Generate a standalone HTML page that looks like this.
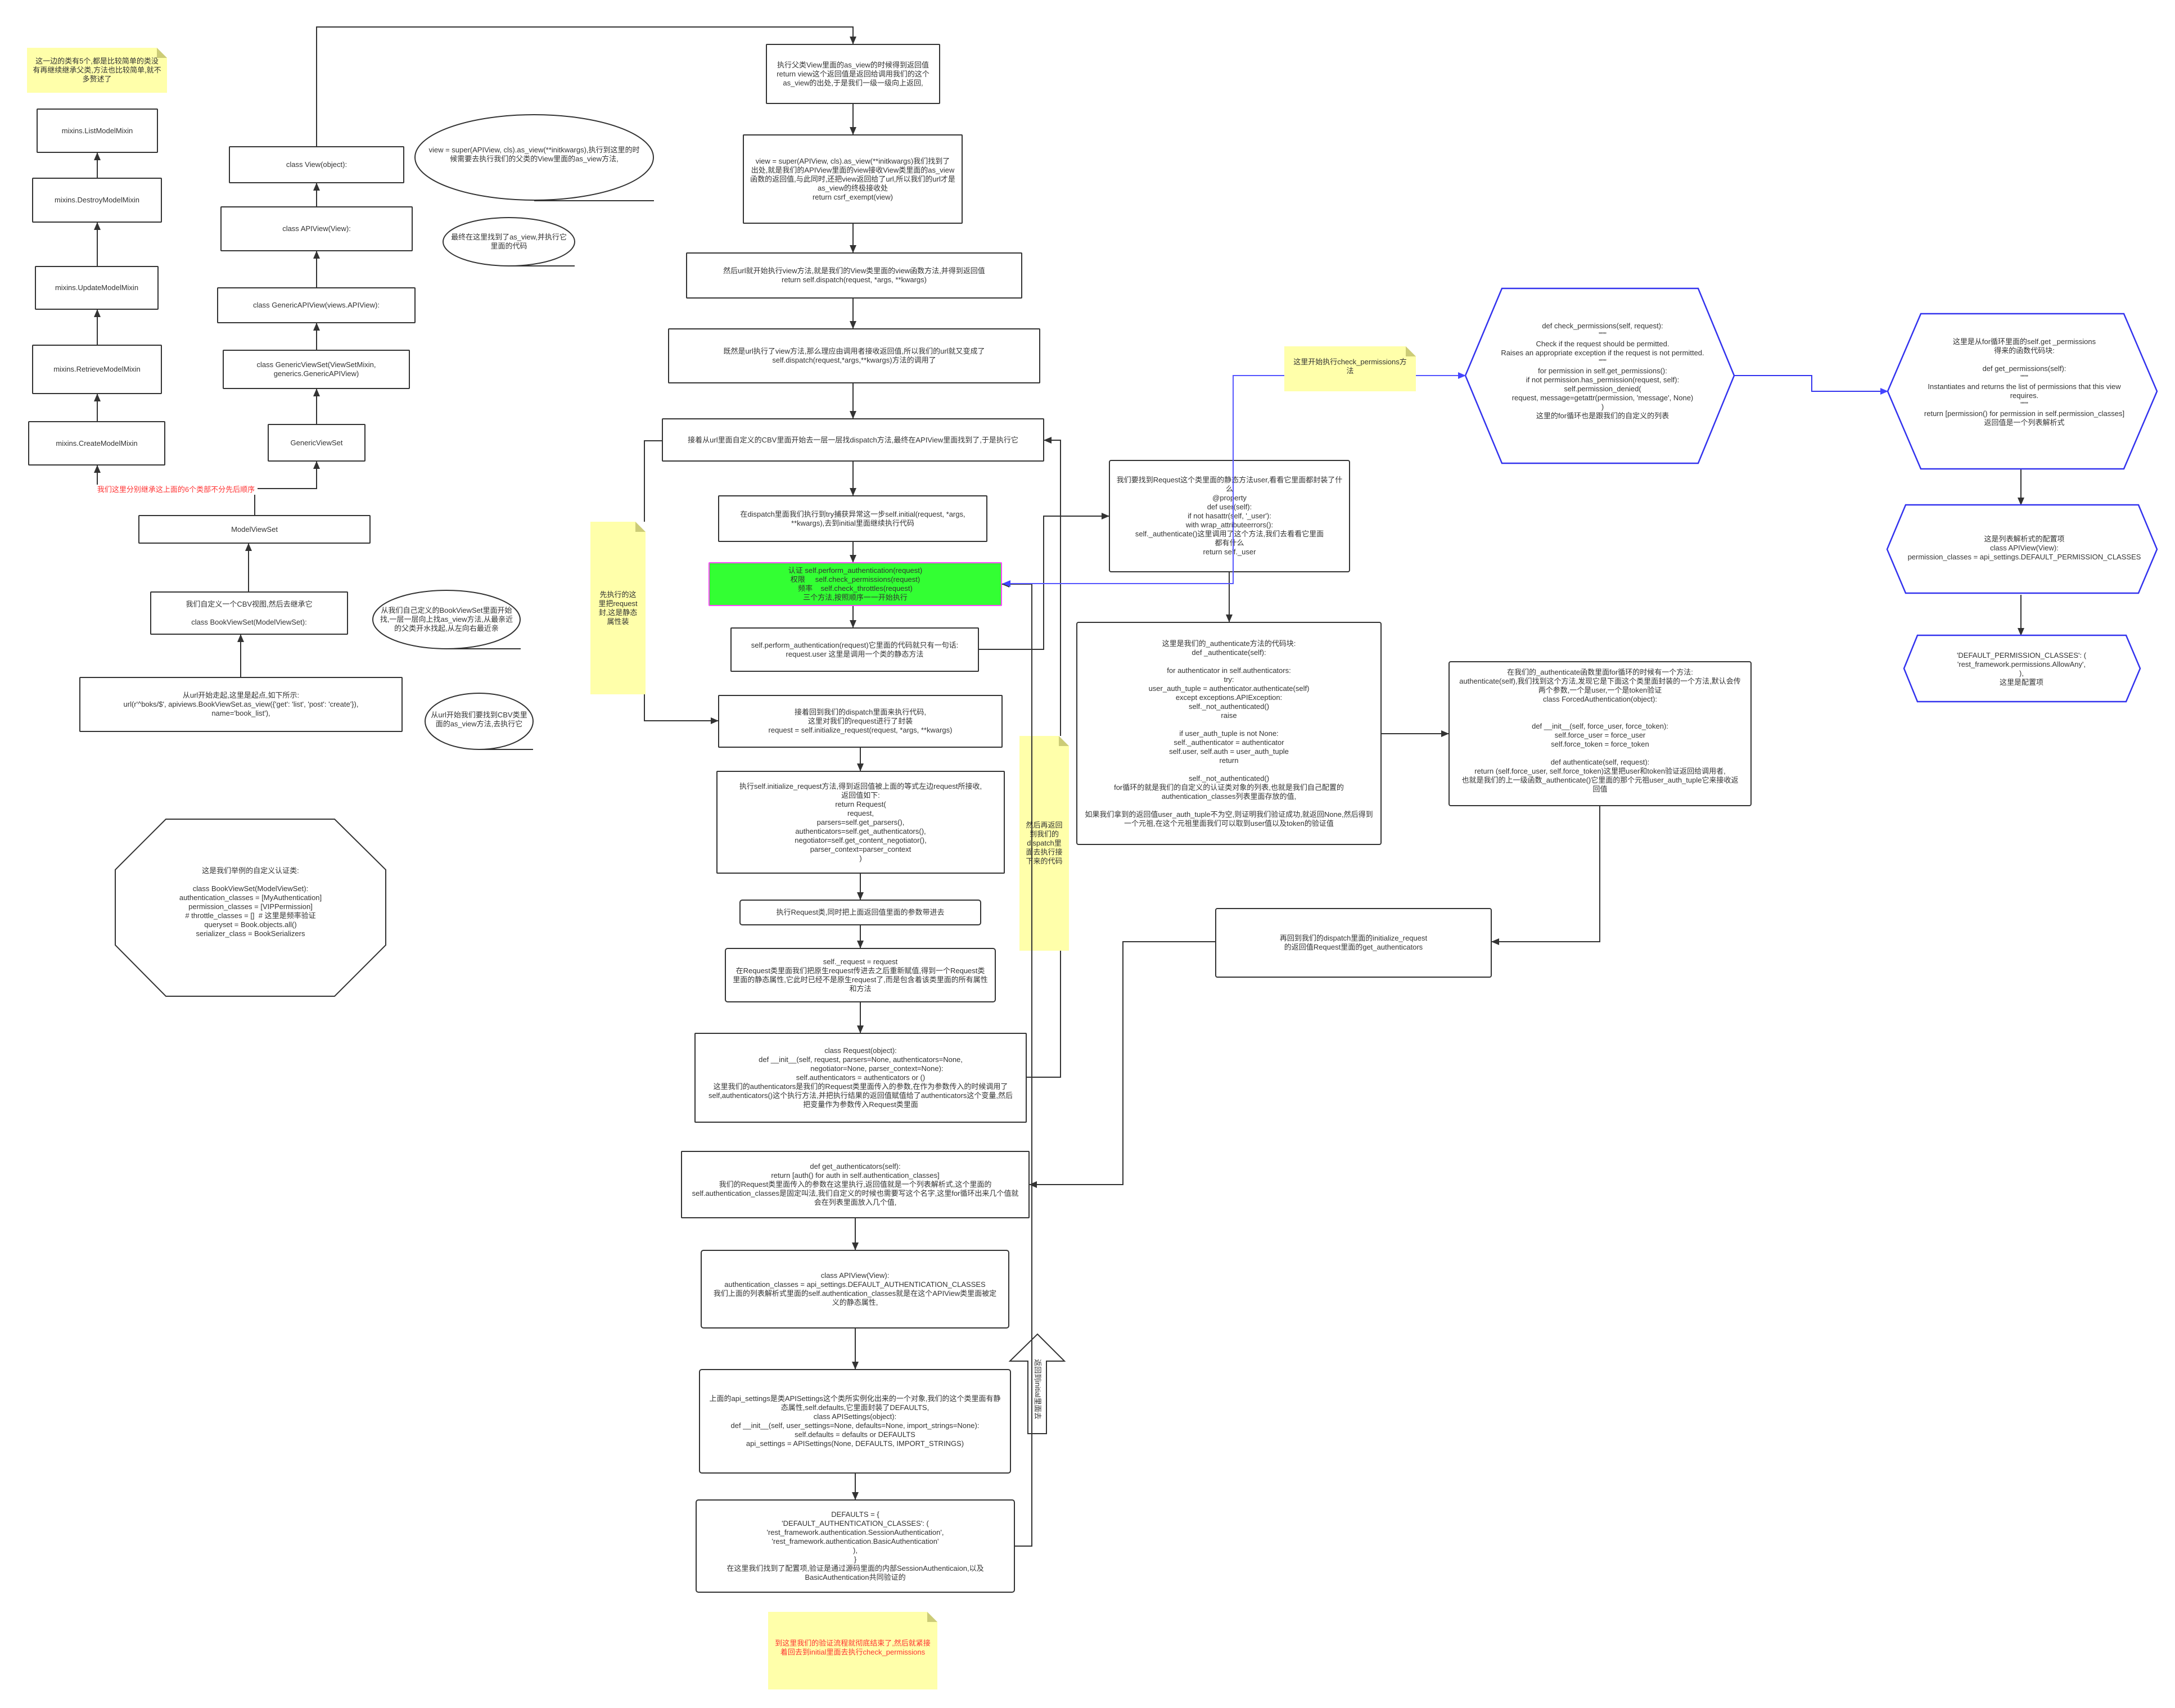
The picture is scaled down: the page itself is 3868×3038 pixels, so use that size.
<!DOCTYPE html>
<html><head><meta charset="utf-8">
<style>
html,body{margin:0;padding:0;background:#fff}
#c{position:relative;width:3868px;height:3038px;overflow:hidden;background:#fff;font-family:"Liberation Sans","Noto Sans CJK SC",sans-serif;font-size:13px;line-height:16px;color:#333}
.b{position:absolute;box-sizing:border-box;border:2px solid #333;background:#fff;display:flex;align-items:center;justify-content:center;text-align:center;border-radius:2px}
.t{position:absolute;display:flex;align-items:center;justify-content:center;text-align:center}
.n{position:absolute;background:#ffffaa;display:flex;align-items:center;justify-content:center;text-align:center;box-sizing:border-box;padding:4px}
.n::after{content:"";position:absolute;right:0;top:0;border-style:solid;border-width:0 18px 18px 0;border-color:transparent #fff #cccc77 transparent}
svg{position:absolute;left:0;top:0}
</style></head><body><div id="c">
<svg width="3868" height="3038" viewBox="0 0 3868 3038">
<defs>
<marker id="a" markerUnits="userSpaceOnUse" markerWidth="14" markerHeight="12" refX="13" refY="6" orient="auto"><path d="M0,0 L14,6 L0,12 z" fill="#333"/></marker>
<marker id="ab" markerUnits="userSpaceOnUse" markerWidth="14" markerHeight="12" refX="13" refY="6" orient="auto"><path d="M0,0 L14,6 L0,12 z" fill="#4444ff"/></marker>
</defs>
<g fill="none" stroke="#333" stroke-width="2">
<polyline points="563,260 563,48 1517,48 1517,78" marker-end="url(#a)"/>
<line x1="1517" y1="185" x2="1517" y2="239" marker-end="url(#a)"/>
<line x1="1517" y1="398" x2="1517" y2="449" marker-end="url(#a)"/>
<line x1="1517" y1="531" x2="1517" y2="584" marker-end="url(#a)"/>
<line x1="1517" y1="682" x2="1517" y2="744" marker-end="url(#a)"/>
<line x1="1517" y1="821" x2="1517" y2="881" marker-end="url(#a)"/>
<line x1="1517" y1="964" x2="1517" y2="1000" marker-end="url(#a)"/>
<line x1="1517" y1="1078" x2="1517" y2="1116" marker-end="url(#a)"/>
<polyline points="1741,1155 1856,1155 1856,918 1972,918" marker-end="url(#a)"/>
<polyline points="1177,784 1146,784 1146,1282 1277,1282" marker-end="url(#a)"/>
<line x1="1530" y1="1330" x2="1530" y2="1371" marker-end="url(#a)"/>
<line x1="1530" y1="1554" x2="1530" y2="1600" marker-end="url(#a)"/>
<line x1="1530" y1="1646" x2="1530" y2="1686" marker-end="url(#a)"/>
<line x1="1530" y1="1783" x2="1530" y2="1837" marker-end="url(#a)"/>
<polyline points="1826,1916 1886,1916 1886,783 1857,783" marker-end="url(#a)"/>
<line x1="1521" y1="2167" x2="1521" y2="2223" marker-end="url(#a)"/>
<line x1="1521" y1="2363" x2="1521" y2="2435" marker-end="url(#a)"/>
<line x1="1521" y1="2621" x2="1521" y2="2667" marker-end="url(#a)"/>
<line x1="2186" y1="1018" x2="2186" y2="1106" marker-end="url(#a)"/>
<line x1="2457" y1="1305" x2="2576" y2="1305" marker-end="url(#a)"/>
<polyline points="2845,1434 2845,1675 2653,1675" marker-end="url(#a)"/>
<polyline points="2161,1675 1997,1675 1997,2107 1831,2107" marker-end="url(#a)"/>
<line x1="3594" y1="834" x2="3594" y2="898" marker-end="url(#a)"/>
<line x1="3594" y1="1058" x2="3594" y2="1130" marker-end="url(#a)"/>
<line x1="173" y1="316" x2="173" y2="272" marker-end="url(#a)"/>
<line x1="173" y1="473" x2="173" y2="396" marker-end="url(#a)"/>
<line x1="173" y1="613" x2="173" y2="551" marker-end="url(#a)"/>
<line x1="173" y1="749" x2="173" y2="701" marker-end="url(#a)"/>
<line x1="173" y1="869" x2="173" y2="828" marker-end="url(#a)"/>
<polyline points="453,916 453,869 563,869 563,821" marker-end="url(#a)"/>
<line x1="453" y1="869" x2="173" y2="869"/>
<line x1="563" y1="754" x2="563" y2="692" marker-end="url(#a)"/>
<line x1="563" y1="622" x2="563" y2="575" marker-end="url(#a)"/>
<line x1="563" y1="511" x2="563" y2="447" marker-end="url(#a)"/>
<line x1="563" y1="367" x2="563" y2="326" marker-end="url(#a)"/>
<line x1="442" y1="1052" x2="442" y2="967" marker-end="url(#a)"/>
<line x1="428" y1="1204" x2="428" y2="1129" marker-end="url(#a)"/>
<ellipse cx="950" cy="280" rx="212" ry="76" fill="#fff"/>
<line x1="950" y1="357" x2="1163" y2="357"/>
<ellipse cx="905" cy="430" rx="117" ry="43" fill="#fff"/>
<line x1="905" y1="473" x2="1022" y2="473"/>
<ellipse cx="794" cy="1102" rx="131" ry="52" fill="#fff"/>
<line x1="794" y1="1154" x2="926" y2="1154"/>
<ellipse cx="852" cy="1283" rx="96" ry="50" fill="#fff"/>
<line x1="852" y1="1333" x2="948" y2="1333"/>
<polygon points="295,1457 595,1457 686,1547 686,1681 595,1772 295,1772 205,1681 205,1547" fill="#fff"/>
<polygon points="1845,2373 1893,2421 1861,2421 1861,2550 1828,2550 1828,2421 1796,2421" fill="#fff"/>
</g>
<g fill="#fff" stroke="#3333ee" stroke-width="2.5">
<polygon points="2671,513 3020,513 3084,668 3020,824 2671,824 2606,668"/>
<polygon points="3416,558 3777,558 3836,696 3777,834 3416,834 3357,696"/>
<polygon points="3389,898 3803,898 3836,977 3803,1055 3389,1055 3356,977"/>
<polygon points="3410,1130 3781,1130 3806,1189 3781,1248 3410,1248 3386,1189"/>
</g>
</svg>

<div class="n" style="left:48px;top:85px;width:249px;height:80px">这一边的类有5个,都是比较简单的类没<br>有再继续继承父类,方法也比较简单,就不<br>多赘述了</div>
<div class="b" style="left:65px;top:193px;width:216px;height:79px">mixins.ListModelMixin</div>
<div class="b" style="left:57px;top:316px;width:231px;height:80px">mixins.DestroyModelMixin</div>
<div class="b" style="left:62px;top:473px;width:220px;height:78px">mixins.UpdateModelMixin</div>
<div class="b" style="left:57px;top:613px;width:231px;height:88px">mixins.RetrieveModelMixin</div>
<div class="b" style="left:50px;top:749px;width:244px;height:79px">mixins.CreateModelMixin</div>
<div class="t" style="left:168px;top:862px;width:290px;height:18px;background:#fff;color:#ff3333;white-space:nowrap">我们这里分别继承这上面的6个类部不分先后顺序</div>
<div class="b" style="left:407px;top:260px;width:312px;height:66px">class View(object):</div>
<div class="b" style="left:392px;top:367px;width:342px;height:80px">class APIView(View):</div>
<div class="b" style="left:386px;top:511px;width:353px;height:64px">class GenericAPIView(views.APIView):</div>
<div class="b" style="left:396px;top:622px;width:333px;height:70px">class GenericViewSet(ViewSetMixin,<br>generics.GenericAPIView)</div>
<div class="b" style="left:476px;top:754px;width:174px;height:67px">GenericViewSet</div>
<div class="b" style="left:246px;top:916px;width:413px;height:51px">ModelViewSet</div>
<div class="b" style="left:267px;top:1052px;width:352px;height:77px">我们自定义一个CBV视图,然后去继承它<br><br>class BookViewSet(ModelViewSet):</div>
<div class="b" style="left:141px;top:1204px;width:575px;height:98px">从url开始走起,这里是起点,如下所示:<br>url(r'^boks/$', apiviews.BookViewSet.as_view({'get': 'list', 'post': 'create'}),<br>name='book_list'),</div>
<div class="t" style="left:740px;top:250px;width:420px;height:50px">view = super(APIView, cls).as_view(**initkwargs),执行到这里的时<br>候需要去执行我们的父类的View里面的as_view方法,</div>
<div class="t" style="left:790px;top:405px;width:230px;height:50px">最终在这里找到了as_view,并执行它<br>里面的代码</div>
<div class="t" style="left:665px;top:1075px;width:258px;height:54px">从我们自己定义的BookViewSet里面开始<br>找,一层一层向上找as_view方法,从最亲近<br>的父类开水找起,从左向右最近亲</div>
<div class="t" style="left:757px;top:1260px;width:190px;height:40px">从url开始我们要找到CBV类里<br>面的as_view方法,去执行它</div>
<div class="t" style="left:205px;top:1530px;width:481px;height:150px">这是我们举例的自定义认证类:<br><br>class BookViewSet(ModelViewSet):<br>authentication_classes = [MyAuthentication]<br>permission_classes = [VIPPermission]<br># throttle_classes = []&nbsp; # 这里是频率验证<br>queryset = Book.objects.all()<br>serializer_class = BookSerializers</div>
<div class="n" style="left:1050px;top:928px;width:98px;height:307px">先执行的这<br>里把request<br>封,这是静态<br>属性装</div>

<div class="b" style="left:1362px;top:78px;width:310px;height:107px">执行父类View里面的as_view的时候得到返回值<br>return view这个返回值是返回给调用我们的这个<br>as_view的出处,于是我们一级一级向上返回,</div>
<div class="b" style="left:1321px;top:239px;width:391px;height:159px">view = super(APIView, cls).as_view(**initkwargs)我们找到了<br>出处,就是我们的APIView里面的view接收View类里面的as_view<br>函数的返回值,与此同时,还把view返回给了url,所以我们的url才是<br>as_view的终极接收处<br>return csrf_exempt(view)</div>
<div class="b" style="left:1220px;top:449px;width:598px;height:82px">然后url就开始执行view方法,就是我们的View类里面的view函数方法,并得到返回值<br>return self.dispatch(request, *args, **kwargs)</div>
<div class="b" style="left:1188px;top:584px;width:662px;height:98px">既然是url执行了view方法,那么理应由调用者接收返回值,所以我们的url就又变成了<br>self.dispatch(request,*args,**kwargs)方法的调用了</div>
<div class="b" style="left:1177px;top:744px;width:680px;height:77px">接着从url里面自定义的CBV里面开始去一层一层找dispatch方法,最终在APIView里面找到了,于是执行它</div>
<div class="b" style="left:1277px;top:881px;width:479px;height:83px">在dispatch里面我们执行到try捕获异常这一步self.initial(request, *args,<br>**kwargs),去到initial里面继续执行代码</div>
<div class="b" style="left:1260px;top:1000px;width:522px;height:78px;background:#33ff33;border-color:#ff44ff">认证 self.perform_authentication(request)<br>权限&nbsp;&nbsp;&nbsp;&nbsp; self.check_permissions(request)<br>频率&nbsp;&nbsp;&nbsp; self.check_throttles(request)<br>三个方法,按照顺序一一开始执行</div>
<div class="b" style="left:1299px;top:1116px;width:442px;height:79px">self.perform_authentication(request)它里面的代码就只有一句话:<br>request.user 这里是调用一个类的静态方法</div>
<div class="b" style="left:1277px;top:1236px;width:506px;height:94px">接着回到我们的dispatch里面来执行代码,<br>这里对我们的request进行了封装<br>request = self.initialize_request(request, *args, **kwargs)</div>
<div class="b" style="left:1274px;top:1371px;width:513px;height:183px">执行self.initialize_request方法,得到返回值被上面的等式左边request所接收,<br>返回值如下:<br>return Request(<br>request,<br>parsers=self.get_parsers(),<br>authenticators=self.get_authenticators(),<br>negotiator=self.get_content_negotiator(),<br>parser_context=parser_context<br>)</div>
<div class="b" style="left:1315px;top:1600px;width:430px;height:46px;border-radius:5px">执行Request类,同时把上面返回值里面的参数带进去</div>
<div class="b" style="left:1289px;top:1686px;width:482px;height:97px;border-radius:5px">self._request = request<br>在Request类里面我们把原生request传进去之后重新赋值,得到一个Request类<br>里面的静态属性,它此时已经不是原生request了,而是包含着该类里面的所有属性<br>和方法</div>
<div class="b" style="left:1235px;top:1837px;width:591px;height:160px">class Request(object):<br>def __init__(self, request, parsers=None, authenticators=None,<br>&nbsp;&nbsp;&nbsp;&nbsp;&nbsp;&nbsp;&nbsp;&nbsp;&nbsp;&nbsp;&nbsp;&nbsp;&nbsp;&nbsp;&nbsp;&nbsp;negotiator=None, parser_context=None):<br>self.authenticators = authenticators or ()<br>这里我们的authenticators是我们的Request类里面传入的参数,在作为参数传入的时候调用了<br>self,authenticators()这个执行方法,并把执行结果的返回值赋值给了authenticators这个变量,然后<br>把变量作为参数传入Request类里面</div>
<div class="b" style="left:1211px;top:2047px;width:620px;height:120px">def get_authenticators(self):<br>return [auth() for auth in self.authentication_classes]<br>我们的Request类里面传入的参数在这里执行,返回值就是一个列表解析式,这个里面的<br>self.authentication_classes是固定叫法,我们自定义的时候也需要写这个名字,这里for循环出来几个值就<br>会在列表里面放入几个值,</div>
<div class="b" style="left:1246px;top:2223px;width:549px;height:140px;border-radius:5px">class APIView(View):<br>authentication_classes = api_settings.DEFAULT_AUTHENTICATION_CLASSES<br>我们上面的列表解析式里面的self.authentication_classes就是在这个APIView类里面被定<br>义的静态属性,</div>
<div class="b" style="left:1243px;top:2435px;width:555px;height:186px;border-radius:5px">上面的api_settings是类APISettings这个类所实例化出来的一个对象,我们的这个类里面有静<br>态属性,self.defaults,它里面封装了DEFAULTS,<br>class APISettings(object):<br>def __init__(self, user_settings=None, defaults=None, import_strings=None):<br>self.defaults = defaults or DEFAULTS<br>api_settings = APISettings(None, DEFAULTS, IMPORT_STRINGS)</div>
<div class="b" style="left:1237px;top:2667px;width:568px;height:166px;border-radius:5px">DEFAULTS = {<br>'DEFAULT_AUTHENTICATION_CLASSES': (<br>'rest_framework.authentication.SessionAuthentication',<br>'rest_framework.authentication.BasicAuthentication'<br>),<br>}<br>在这里我们找到了配置项,验证是通过源码里面的内部SessionAuthenticaion,以及<br>BasicAuthentication共同验证的</div>
<div class="t" style="left:1770px;top:2462px;width:150px;height:18px;transform:rotate(90deg);white-space:nowrap">返回到initial里面去</div>
<div class="n" style="left:1366px;top:2867px;width:301px;height:138px;color:#ff3333;align-items:flex-start;padding-top:48px">到这里我们的验证流程就彻底结束了,然后就紧接<br>着回去到initial里面去执行check_permissions</div>
<div class="n" style="left:1813px;top:1309px;width:88px;height:382px">然后再返回<br>到我们的<br>dispatch里<br>面去执行接<br>下来的代码</div>

<div class="b" style="left:1972px;top:818px;width:429px;height:200px;border-radius:4px">我们要找到Request这个类里面的静态方法user,看看它里面都封装了什<br>么<br>@property<br>def user(self):<br>if not hasattr(self, '_user'):<br>with wrap_attributeerrors():<br>self._authenticate()这里调用了这个方法,我们去看看它里面<br>都有什么<br>return self._user</div>
<div class="b" style="left:1914px;top:1106px;width:543px;height:397px;border-radius:4px">这里是我们的_authenticate方法的代码块:<br>def _authenticate(self):<br><br>for authenticator in self.authenticators:<br>try:<br>user_auth_tuple = authenticator.authenticate(self)<br>except exceptions.APIException:<br>self._not_authenticated()<br>raise<br><br>if user_auth_tuple is not None:<br>self._authenticator = authenticator<br>self.user, self.auth = user_auth_tuple<br>return<br><br>self._not_authenticated()<br>for循环的就是我们的自定义的认证类对象的列表,也就是我们自己配置的<br>authentication_classes列表里面存放的值,<br><br>如果我们拿到的返回值user_auth_tuple不为空,则证明我们验证成功,就返回None,然后得到<br>一个元祖,在这个元祖里面我们可以取到user值以及token的验证值</div>
<div class="b" style="left:2576px;top:1176px;width:539px;height:258px;border-radius:4px;align-items:flex-start;padding-top:10px">在我们的_authenticate函数里面for循环的时候有一个方法:<br>authenticate(self),我们找到这个方法,发现它是下面这个类里面封装的一个方法,默认会传<br>两个参数,一个是user,一个是token验证<br>class ForcedAuthentication(object):<br><br><br>def __init__(self, force_user, force_token):<br>self.force_user = force_user<br>self.force_token = force_token<br><br>def authenticate(self, request):<br>return (self.force_user, self.force_token)这里把user和token验证返回给调用者,<br>也就是我们的上一级函数_authenticate()它里面的那个元祖user_auth_tuple它来接收返<br>回值</div>
<div class="b" style="left:2161px;top:1615px;width:492px;height:124px;border-radius:4px">再回到我们的dispatch里面的initialize_request<br>的返回值Request里面的get_authenticators</div>

<div class="t" style="left:2640px;top:560px;width:420px;height:200px">def check_permissions(self, request):<br>"""<br>Check if the request should be permitted.<br>Raises an appropriate exception if the request is not permitted.<br>"""<br>for permission in self.get_permissions():<br>if not permission.has_permission(request, self):<br>self.permission_denied(<br>request, message=getattr(permission, 'message', None)<br>)<br>这里的for循环也是跟我们的自定义的列表</div>
<div class="t" style="left:3400px;top:590px;width:400px;height:180px">这里是从for循环里面的self.get _permissions<br>得来的函数代码块:<br><br>def get_permissions(self):<br>"""<br>Instantiates and returns the list of permissions that this view<br>requires.<br>"""<br>return [permission() for permission in self.permission_classes]<br>返回值是一个列表解析式</div>
<div class="t" style="left:3380px;top:945px;width:440px;height:60px">这是列表解析式的配置项<br>class APIView(View):<br>permission_classes = api_settings.DEFAULT_PERMISSION_CLASSES</div>
<div class="t" style="left:3420px;top:1155px;width:350px;height:70px">'DEFAULT_PERMISSION_CLASSES': (<br>'rest_framework.permissions.AllowAny',<br>),<br>这里是配置项</div>
<div class="n" style="left:2284px;top:616px;width:234px;height:80px;align-items:flex-start;padding-top:20px">这里开始执行check_permissions方<br>法</div>

<svg width="3868" height="3038" viewBox="0 0 3868 3038" style="pointer-events:none">
<g fill="none" stroke-width="2">
<polyline stroke="#333" points="1805,2750 1835,2750 1835,1039 1782,1039" marker-end="url(#a)"/>
<polyline stroke="#5555ff" points="2284,668 2193,668 2193,1038 1784,1038" marker-end="url(#ab)"/>
<line stroke="#5555ff" x1="2518" y1="668" x2="2606" y2="668" marker-end="url(#ab)"/>
<polyline stroke="#3333ee" points="3084,668 3222,668 3222,696 3357,696" marker-end="url(#ab)"/>
</g>
</svg>
</div></body></html>
